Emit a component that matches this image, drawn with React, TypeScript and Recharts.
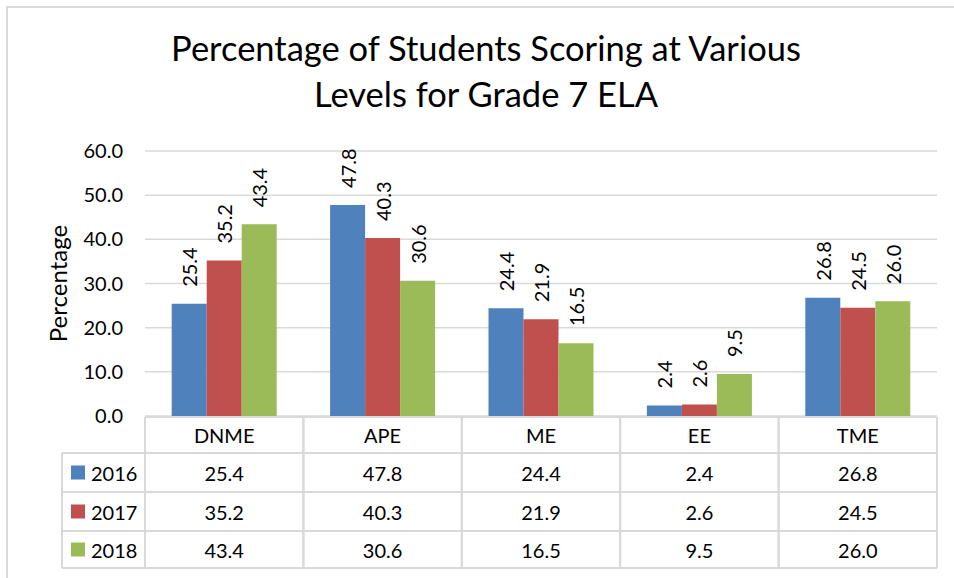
import React from "react";
import {
  BarChart,
  Bar,
  XAxis,
  YAxis,
  CartesianGrid,
  LabelList,
} from "recharts";

const categories = ["DNME", "APE", "ME", "EE", "TME"];
const years = ["2016", "2017", "2018"];
const values2016 = [25.4, 47.8, 24.4, 2.4, 26.8];
const values2017 = [35.2, 40.3, 21.9, 2.6, 24.5];
const values2018 = [43.4, 30.6, 16.5, 9.5, 26.0];
const yTicks = [0, 10, 20, 30, 40, 50, 60];

const seriesValues = [values2016, values2017, values2018];
const colors = ["#4f81bd", "#c0504d", "#9bbb59"];

const data = categories.map((c, i) => ({
  name: c,
  y2016: values2016[i],
  y2017: values2017[i],
  y2018: values2018[i],
}));

const FONT = "Lato, 'Open Sans', sans-serif";
const GRID = "#d9d9d9";

// row boundaries of the data table, relative to the x axis line
const rowEdges = [1, 37, 76, 115, 152];

function RotLabel(props: any) {
  const { x, y, width, value } = props;
  const cx = x + width / 2;
  const ty = y - 17;
  return (
    <text
      x={cx}
      y={ty}
      transform={`rotate(-90 ${cx} ${ty})`}
      textAnchor="start"
      dominantBaseline="central"
      fontFamily={FONT}
      fontSize={20}
      fill="#000"
    >
      {Number(value).toFixed(1)}
    </text>
  );
}

function TableTick(props: any) {
  const { x, y, payload, index } = props;
  const colW = 158.4;
  const left = x - colW / 2;
  const right = x + colW / 2;
  const col = categories.indexOf(payload.value);
  const mid = (a: number, b: number) => y + (rowEdges[a] + rowEdges[b]) / 2;
  return (
    <g>
      {rowEdges.map((r, k) => (
        <line key={"h" + k} x1={left} x2={right} y1={y + r} y2={y + r} stroke={GRID} strokeWidth={2} />
      ))}
      <line x1={left} x2={left} y1={y + rowEdges[0]} y2={y + rowEdges[4]} stroke={GRID} strokeWidth={2} />
      <line x1={right} x2={right} y1={y + rowEdges[0]} y2={y + rowEdges[4]} stroke={GRID} strokeWidth={2} />
      <text x={x} y={mid(0, 1)} textAnchor="middle" dominantBaseline="central" fontFamily={FONT} fontSize={20} fill="#000">
        {payload.value}
      </text>
      {seriesValues.map((vals, k) => (
        <text key={k} x={x} y={mid(k + 1, k + 2)} textAnchor="middle" dominantBaseline="central" fontFamily={FONT} fontSize={20} fill="#000">
          {vals[col].toFixed(1)}
        </text>
      ))}
      {index === 0 && (
        <g>
          {[1, 2, 3, 4].map((k) => (
            <line key={"lh" + k} x1={left - 83} x2={left} y1={y + rowEdges[k]} y2={y + rowEdges[k]} stroke={GRID} strokeWidth={2} />
          ))}
          <line x1={left - 83} x2={left - 83} y1={y + rowEdges[1]} y2={y + rowEdges[4]} stroke={GRID} strokeWidth={2} />
          {years.map((yr, k) => (
            <g key={yr}>
              <rect x={left - 74} y={mid(k + 1, k + 2) - 7} width={14} height={14} fill={colors[k]} />
              <text x={left - 54} y={mid(k + 1, k + 2)} dominantBaseline="central" fontFamily={FONT} fontSize={20} fill="#000">
                {yr}
              </text>
            </g>
          ))}
        </g>
      )}
    </g>
  );
}

export default function App() {
  return (
    <div style={{ position: "absolute", left: 0, top: 0, width: 954, height: 578, overflow: "hidden", background: "#fff" }}>
      <div style={{ position: "absolute", left: 6, top: 6, width: 980, height: 620, border: `2px solid ${GRID}` }} />
      <div
        style={{
          position: "absolute",
          left: 6,
          width: 960,
          top: 25,
          textAlign: "center",
          fontFamily: FONT,
          fontSize: 34.5,
          lineHeight: "46px",
          color: "#000",
        }}
      >
        Percentage of Students Scoring at Various
        <br />
        Levels for Grade 7 ELA
      </div>
      <div style={{ position: "absolute", left: 0, top: 0 }}>
        <BarChart
          width={954}
          height={578}
          data={data}
          margin={{ top: 151, right: 17, bottom: 0, left: 85 }}
          barCategoryGap={26.7}
          barGap={0}
        >
          <CartesianGrid vertical={false} stroke={GRID} strokeWidth={1.5} />
          <YAxis
            width={60}
            domain={[0, 60]}
            ticks={yTicks}
            tickFormatter={(v: number) => v.toFixed(1)}
            axisLine={false}
            tickLine={false}
            tickSize={0}
            tickMargin={22}
            tick={{ fill: "#000", fontSize: 20, fontFamily: FONT }}
            label={{
              value: "Percentage",
              angle: -90,
              position: "insideLeft",
              offset: -27,
              style: { fill: "#000", fontSize: 24, fontFamily: FONT, textAnchor: "middle" },
            }}
          />
          <XAxis
            dataKey="name"
            height={162}
            axisLine={false}
            tickLine={false}
            tickSize={0}
            tickMargin={0}
            interval={0}
            tick={<TableTick />}
          />
          <Bar dataKey="y2016" fill={colors[0]} isAnimationActive={false}>
            <LabelList dataKey="y2016" content={<RotLabel />} />
          </Bar>
          <Bar dataKey="y2017" fill={colors[1]} isAnimationActive={false}>
            <LabelList dataKey="y2017" content={<RotLabel />} />
          </Bar>
          <Bar dataKey="y2018" fill={colors[2]} isAnimationActive={false}>
            <LabelList dataKey="y2018" content={<RotLabel />} />
          </Bar>
        </BarChart>
      </div>
    </div>
  );
}
